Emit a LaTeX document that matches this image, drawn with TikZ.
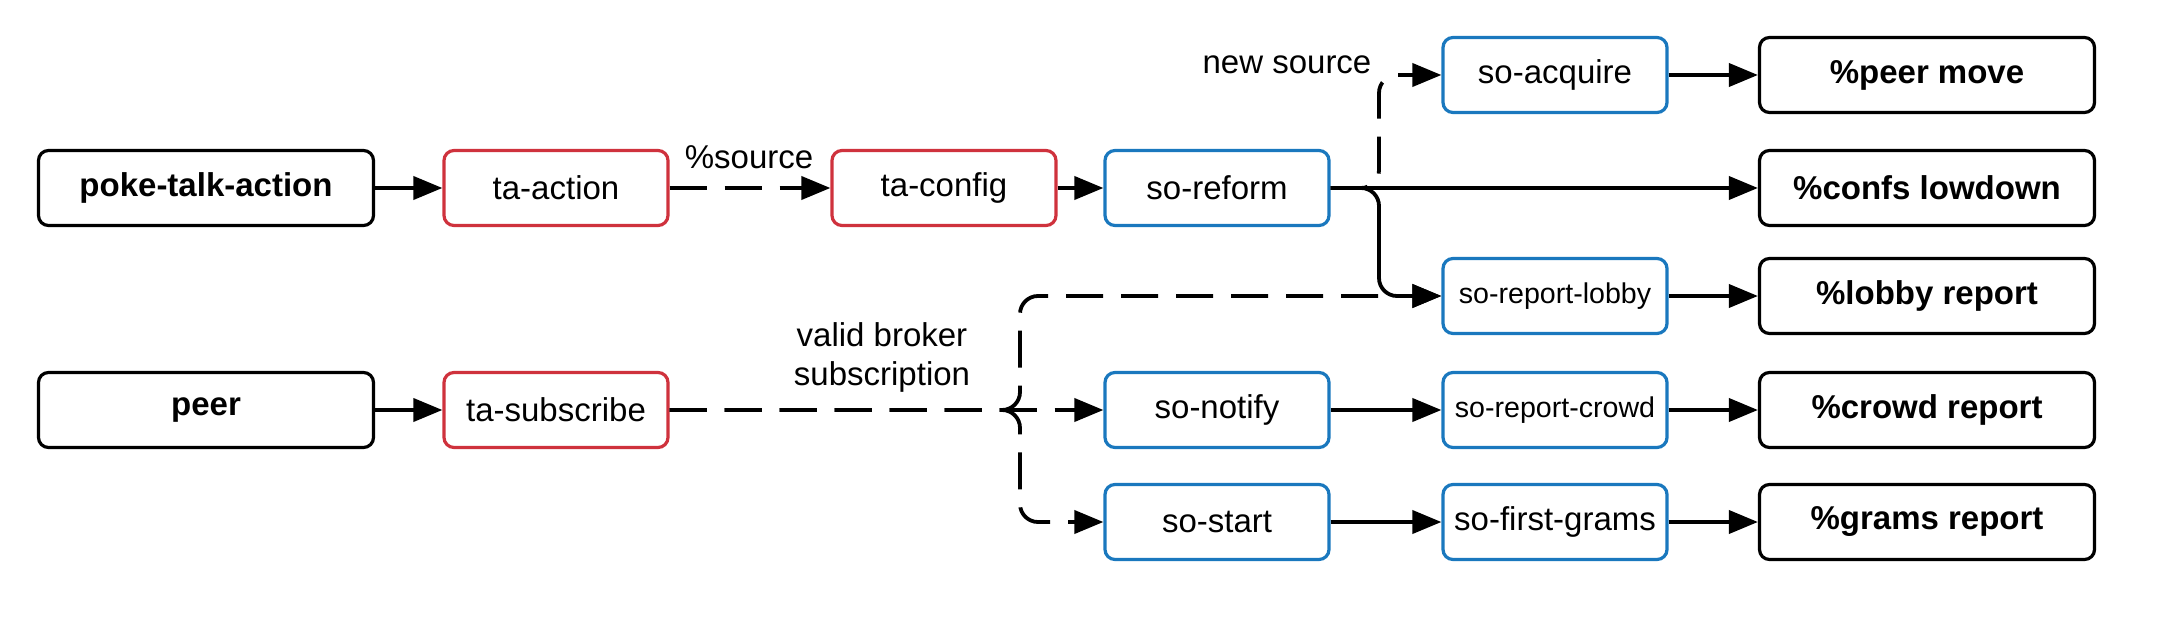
\documentclass[tikz,border=0pt]{standalone}
\usepackage{fontspec}
\setmainfont{Liberation Sans}
\usetikzlibrary{arrows.meta}
\definecolor{boxred}{HTML}{CF323D}
\definecolor{boxblue}{HTML}{1A78BE}
\begin{document}
\begin{tikzpicture}[x=0.5pt,y=-0.5pt,
  box/.style={draw, line width=1.6pt, rounded corners=5pt, minimum height=37.5pt, font=\fontsize{16.5}{19}\selectfont, inner sep=0pt, align=center},
  wide/.style={box, minimum width=167.5pt, font=\bfseries\fontsize{16.5}{19}\selectfont},
  narrow/.style={box, minimum width=112pt},
  redbox/.style={narrow, draw=boxred},
  bluebox/.style={narrow, draw=boxblue},
  small/.style={font=\fontsize{14.3}{17}\selectfont},
  conn/.style={line width=1.9pt, -{Triangle[length=14.5pt,width=11.5pt]}},
  dconn/.style={conn, dash pattern=on 18.5pt off 9pt},
  lbl/.style={font=\fontsize{16.5}{19.5}\selectfont, align=center}
]
\useasboundingbox (0,0) rectangle (2172,636);
% column A
\node[wide] (poke) at (206,188) {poke-talk-action};
\node[wide] (peer) at (206,410) {peer};
% column B
\node[redbox] (taaction) at (556,188) {ta-action};
\node[redbox] (tasub) at (556,410) {ta-subscribe};
% column C
\node[redbox] (taconfig) at (944,188) {ta-config};
% column D
\node[bluebox] (soreform) at (1217,188) {so-reform};
\node[bluebox] (sonotify) at (1217,410) {so-notify};
\node[bluebox] (sostart) at (1217,522) {so-start};
% column E
\node[bluebox] (soacquire) at (1555,75) {so-acquire};
\node[bluebox, small] (solobby) at (1555,296) {so-report-lobby};
\node[bluebox, small] (socrowd) at (1555,410) {so-report-crowd};
\node[bluebox] (sograms) at (1555,522) {so-first-grams};
% column F
\node[wide] (peermove) at (1927,75) {\%peer move};
\node[wide] (confs) at (1927,188) {\%confs lowdown};
\node[wide] (lobby) at (1927,296) {\%lobby report};
\node[wide] (crowd) at (1927,410) {\%crowd report};
\node[wide] (grams) at (1927,522) {\%grams report};
% labels
\node[lbl] (lsource) at (749,157) {\%source};
\node[lbl] (lnew) at (1287,65) {new source};
\node[lbl] (lvalid) at (882,357) {valid broker\\subscription};
% junctions
\coordinate (j1) at (1020,410);
\coordinate (j2) at (1379,188);
% connectors
\draw[conn] (poke) -- (taaction);
\draw[dconn] (taaction) -- (taconfig);
\draw[conn] (taconfig) -- (soreform);
\draw[conn] (soreform.east) -- (confs.west);
\draw[dconn, rounded corners=9pt] (soreform.east) -- (j2) |- (soacquire.west);
\draw[conn, rounded corners=9pt] (soreform.east) -- (j2) |- (solobby.west);
\draw[conn] (soacquire) -- (peermove);
\draw[conn] (solobby) -- (lobby);
\draw[conn] (peer) -- (tasub);
\draw[dconn] (tasub.east) -- (sonotify.west);
\draw[dconn, rounded corners=9pt] (tasub.east) -- (j1) |- (solobby.west);
\draw[dconn, rounded corners=9pt] (tasub.east) -- (j1) |- (sostart.west);
\draw[conn] (sonotify) -- (socrowd);
\draw[conn] (socrowd) -- (crowd);
\draw[conn] (sostart) -- (sograms);
\draw[conn] (sograms) -- (grams);
\end{tikzpicture}
\end{document}
